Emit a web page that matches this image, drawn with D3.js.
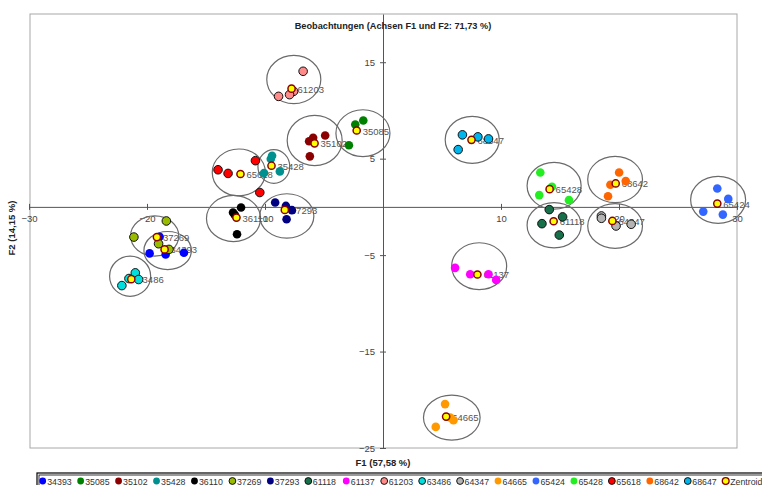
<!DOCTYPE html>
<html>
<head>
<meta charset="utf-8">
<script src="https://cdn.jsdelivr.net/npm/d3@7"></script>
<style>
  body { margin: 0; background: #fff; }
  text { font-family: "Liberation Sans", Arial, sans-serif; }
</style>
</head>
<body>
<div id="chart"></div>
<script>
const svgWidth = 762, svgHeight = 485;

// groups (legend order) and their styling
const groups = ['34393', '35085', '35102', '35428', '36110', '37269', '37293', '61118', '61137',
  '61203', '63486', '64347', '64665', '65424', '65428', '65618', '68642', '68647'];
const colors = ['#0000ff', '#008000', '#8b0000', '#009090', '#000000', '#99bb00', '#000080', '#17704a', '#ff00ff',
  '#ff8a8a', '#00dede', '#b4b4b4', '#ff9900', '#3366ff', '#22ee22', '#ff0000', '#ff6600', '#00b4ec'];
const outlined = [false, false, false, false, false, true, false, true, false,
  true, true, true, false, false, false, true, false, true];

// observations: [group, F1, F2]
const obs = [
  ['61203', -6.77, 14.06], ['61203', -7.58, 11.98], ['61203', -7.92, 11.64], ['61203', -8.85, 11.46],
  ['35102', -4.90, 7.40], ['35102', -5.92, 7.16], ['35102', -6.26, 6.80], ['35102', -6.20, 5.24],
  ['35085', -1.67, 8.96], ['35085', -2.35, 8.54], ['35085', -2.89, 6.39],
  ['35428', -9.40, 5.31], ['35428', -9.51, 4.97], ['35428', -10.08, 3.51], ['35428', -8.74, 3.68],
  ['65618', -13.98, 3.85], ['65618', -13.13, 3.47], ['65618', -10.81, 4.79], ['65618', -10.44, 1.49],
  ['36110', -12.03, -0.07], ['36110', -12.71, -0.59], ['36110', -12.56, -0.83], ['36110', -12.37, -2.84],
  ['37293', -9.14, 0.45], ['37293', -8.23, 0.10], ['37293', -7.72, -0.34], ['37293', -8.17, -1.28],
  ['34393', -18.93, -3.09], ['34393', -19.78, -4.82], ['34393', -18.42, -4.93], ['34393', -16.87, -4.76],
  ['37269', -18.36, -1.46], ['37269', -21.11, -3.13], ['37269', -19.02, -3.82], ['37269', -18.14, -4.41],
  ['63486', -20.99, -6.84], ['63486', -21.53, -7.43], ['63486', -20.71, -7.53], ['63486', -22.13, -8.16],
  ['68647', 6.73, 7.47], ['68647', 8.04, 7.26], ['68647', 8.94, 7.05], ['68647', 6.37, 5.94],
  ['65428', 13.33, 3.57], ['65428', 14.32, 2.08], ['65428', 13.24, 1.22], ['65428', 15.76, 0.70],
  ['61118', 14.09, -0.28], ['61118', 15.22, -1.04], ['61118', 13.47, -1.74], ['61118', 14.94, -2.92],
  ['68642', 20.01, 3.57], ['68642', 20.57, 2.68], ['68642', 19.27, 2.29], ['68642', 19.07, 1.11],
  ['64347', 18.51, -0.94], ['64347', 18.51, -1.18], ['64347', 19.75, -1.98], ['64347', 21.03, -1.80],
  ['65424', 28.33, 1.91], ['65424', 29.26, 0.83], ['65424', 27.14, -0.49], ['65424', 28.80, -0.80],
  ['61137', 6.11, -6.32], ['61137', 7.39, -6.98], ['61137', 8.94, -6.98], ['61137', 9.59, -7.57],
  ['64665', 5.26, -20.45], ['64665', 5.69, -21.84], ['64665', 5.97, -22.12], ['64665', 4.47, -22.81]
];

// centroids: [group, F1, F2]
const centroids = [
  ['61203', -7.75, 12.26], ['35102', -5.80, 6.59], ['35085', -2.23, 7.92], ['35428', -9.45, 4.27],
  ['65618', -12.08, 3.41], ['36110', -12.42, -1.11], ['37293', -8.32, -0.31], ['34393', -18.51, -4.41],
  ['37269', -19.16, -3.13], ['63486', -21.33, -7.50], ['68647', 7.50, 6.95], ['65428', 14.12, 1.84],
  ['61118', 14.46, -1.49], ['68642', 19.72, 2.43], ['64347', 19.44, -1.46], ['65424', 28.33, 0.34],
  ['61137', 8.00, -7.01], ['64665', 5.35, -21.74]
];

// confidence ellipses: [group, cx, cy, rx, ry] in axis units
const ellipses = [
  ['61203', -7.56, 13.20, 2.29, 2.50], ['35102', -5.79, 6.88, 2.33, 2.60], ['35085', -1.70, 7.64, 2.29, 2.43],
  ['35428', -9.25, 4.19, 1.35, 1.75], ['65618', -12.22, 3.57, 2.25, 2.43], ['36110', -12.67, -1.20, 2.29, 2.40],
  ['37293', -8.15, -0.94, 2.29, 2.30], ['37269', -19.35, -3.02, 2.04, 2.08], ['34393', -18.25, -4.53, 2.01, 1.98],
  ['63486', -21.43, -7.19, 1.74, 2.08], ['68647', 7.56, 6.95, 2.29, 2.43], ['65428', 14.50, 2.19, 2.29, 2.43],
  ['61118', 14.50, -1.90, 2.29, 2.34], ['68642', 19.67, 2.84, 2.32, 2.40], ['64347', 19.67, -1.98, 2.32, 2.32],
  ['65424', 28.40, 0.73, 2.33, 2.43], ['61137', 8.15, -6.15, 2.33, 2.43], ['64665', 5.83, -21.85, 2.40, 2.34]
];

const xTicks = [-30, -20, -10, 10, 20, 30];
const yTicks = [15, 5, -5, -15, -25];

const colorOf = d3.scaleOrdinal().domain(groups).range(colors);
const outlineOf = g => outlined[groups.indexOf(g)];

const xScale = d3.scaleLinear().domain([-30, 30]).range([29, 737]);
const yScale = d3.scaleLinear().domain([-25, 20]).range([448, 14]);

const svg = d3.select('#chart').append('svg')
  .attr('width', svgWidth)
  .attr('height', svgHeight);

// plot frame
svg.append('rect')
  .attr('x', 30).attr('y', 14)
  .attr('width', 707).attr('height', 434)
  .attr('fill', 'none')
  .attr('stroke', '#a8a8a8');

// axes through the origin
const xAxis = svg.append('g')
  .attr('transform', `translate(0, ${yScale(0)})`)
  .call(d3.axisBottom(xScale).tickValues(xTicks).tickSize(3).tickSizeOuter(0).tickPadding(5));
xAxis.selectAll('.tick line').attr('y1', -3);

const yAxis = svg.append('g')
  .attr('transform', `translate(${xScale(0)}, 0)`)
  .call(d3.axisLeft(yScale).tickValues(yTicks).tickSize(3).tickSizeOuter(0).tickPadding(5));
yAxis.selectAll('.tick line').attr('x1', 3);

svg.selectAll('.domain, .tick line').attr('stroke', '#555');
svg.selectAll('.tick text')
  .attr('font-size', 9.5)
  .attr('font-family', '"Liberation Sans", Arial, sans-serif')
  .attr('fill', '#444');

// titles
svg.append('text')
  .attr('x', 393).attr('y', 29)
  .attr('text-anchor', 'middle')
  .attr('font-size', 9.2).attr('font-weight', 'bold')
  .attr('fill', '#222')
  .text('Beobachtungen (Achsen F1 und F2: 71,73 %)');

svg.append('text')
  .attr('x', 383).attr('y', 466)
  .attr('text-anchor', 'middle')
  .attr('font-size', 9.5).attr('font-weight', 'bold')
  .attr('fill', '#222')
  .text('F1 (57,58 %)');

svg.append('text')
  .attr('transform', 'translate(15, 228) rotate(-90)')
  .attr('text-anchor', 'middle')
  .attr('font-size', 9.5).attr('font-weight', 'bold')
  .attr('fill', '#222')
  .text('F2 (14,15 %)');

// ellipses
svg.append('g').selectAll('ellipse')
  .data(ellipses)
  .enter()
  .append('ellipse')
  .attr('cx', d => xScale(d[1]))
  .attr('cy', d => yScale(d[2]))
  .attr('rx', d => xScale(d[3]) - xScale(0))
  .attr('ry', d => yScale(0) - yScale(d[4]))
  .attr('fill', 'none')
  .attr('stroke', '#6a6a6a')
  .attr('stroke-width', 1.2);

// centroid labels (drawn under the points)
svg.append('g').selectAll('text')
  .data(centroids)
  .enter()
  .append('text')
  .attr('x', d => xScale(d[1]) + 6)
  .attr('y', d => yScale(d[2]) + 4)
  .attr('font-size', 9.5)
  .attr('fill', '#555')
  .text(d => d[0]);

// observations
svg.append('g').selectAll('circle')
  .data(obs)
  .enter()
  .append('circle')
  .attr('cx', d => xScale(d[1]))
  .attr('cy', d => yScale(d[2]))
  .attr('r', 4.3)
  .attr('fill', d => colorOf(d[0]))
  .attr('stroke', d => outlineOf(d[0]) ? '#111' : 'none')
  .attr('stroke-width', 1);

// centroids
svg.append('g').selectAll('circle')
  .data(centroids)
  .enter()
  .append('circle')
  .attr('cx', d => xScale(d[1]))
  .attr('cy', d => yScale(d[2]))
  .attr('r', 3.6)
  .attr('fill', '#ffff00')
  .attr('stroke', '#8b0000')
  .attr('stroke-width', 1.5);

// legend
const legendItems = groups.map((g, i) => ({ name: g, color: colors[i], outline: outlined[i] }))
  .concat([{ name: 'Zentroid', color: '#ffff00', outline: true, centroid: true }]);

const legend = svg.append('g');
legend.append('rect')
  .attr('x', 37).attr('y', 473)
  .attr('width', 740).attr('height', 20)
  .attr('fill', '#fff')
  .attr('stroke', '#000')
  .attr('stroke-width', 1.2);
legend.append('rect')
  .attr('x', 39).attr('y', 475)
  .attr('width', 736).attr('height', 16)
  .attr('fill', 'none')
  .attr('stroke', '#000')
  .attr('stroke-width', 0.8);

const legendScale = d3.scalePoint()
  .domain(legendItems.map(d => d.name))
  .range([42.7, 725.7]);

const item = legend.selectAll('g.item')
  .data(legendItems)
  .enter()
  .append('g')
  .attr('class', 'item')
  .attr('transform', d => `translate(${legendScale(d.name)}, 481)`);

item.append('circle')
  .attr('r', 3.4)
  .attr('fill', d => d.color)
  .attr('stroke', d => d.centroid ? '#8b0000' : (d.outline ? '#111' : 'none'))
  .attr('stroke-width', d => d.centroid ? 1.3 : 1);

item.append('text')
  .attr('x', 4.5)
  .attr('y', 3.5)
  .attr('font-size', 8.8)
  .attr('fill', '#333')
  .text(d => d.name);
</script>
</body>
</html>
